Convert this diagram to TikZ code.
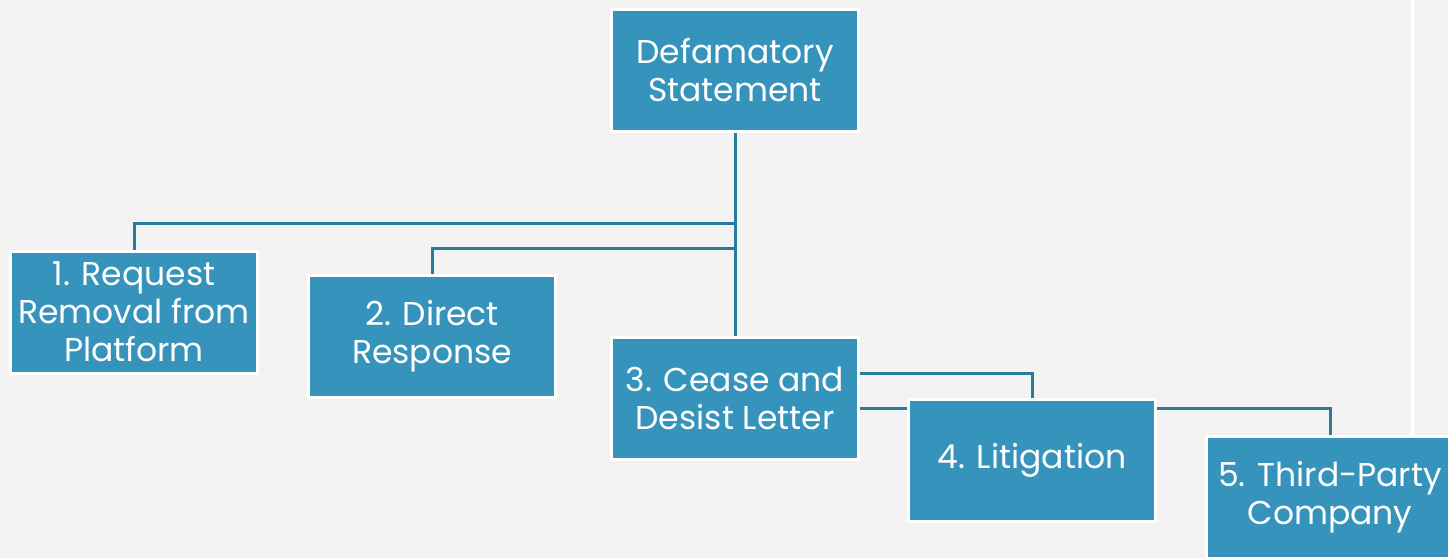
\documentclass[tikz,border=0pt]{standalone}
\usepackage{fontspec}
\setmainfont{Poppins}
\usetikzlibrary{positioning,backgrounds}

\definecolor{pagebg}{HTML}{F2F2F2}
\definecolor{boxfill}{HTML}{3694BC}
\definecolor{linkcol}{HTML}{2A7B99}

\tikzset{
    stepbox/.style={draw=white, line width=3pt, fill=boxfill, text=white,
        minimum width=247pt, minimum height=122pt, align=center,
        font=\fontsize{33}{38}\selectfont},
    link/.style={draw=linkcol, line width=3pt},
}

\begin{document}
\begin{tikzpicture}[x=1pt, y=-1pt]
    \clip (0,0) rectangle (1448,558);

    \node[stepbox] (root) at (735,70)   {Defamatory\\Statement};
    \node[stepbox] (b1)   at (134,312)  {1. Request\\Removal from\\Platform};
    \node[stepbox] (b2)   at (432,336)  {2. Direct\\Response};
    \node[stepbox] (b3)   at (735,398)  {3. Cease and\\Desist Letter};
    \node[stepbox] (b4)   at (1032,460) {4. Litigation};
    \node[stepbox] (b5)   at (1330,497) {5. Third-Party\\Company};

    % branch points on the trunk
    \coordinate (j1) at (735,223);
    \coordinate (j2) at (735,248);

    \begin{pgfonlayer}{background}
        \fill[pagebg] (0,0) rectangle (1448,558);
        \draw[white, line width=3pt] (1412,0) -- (1412,440);
        \draw[link] (root) -- (b3);
        \draw[link] (j1) -| (b1);
        \draw[link] (j2) -| (b2);
        \draw[link] ([yshift=25pt]b3.east) -| (b4);
        \draw[link] ([yshift=-10pt]b3.east) -| (b5);
    \end{pgfonlayer}
\end{tikzpicture}
\end{document}
